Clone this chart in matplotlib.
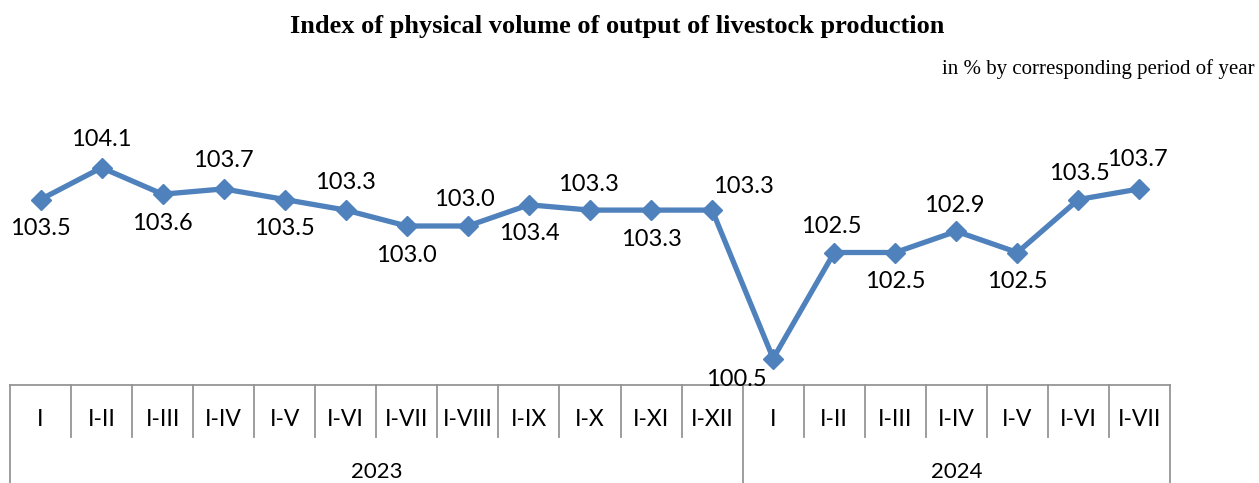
import matplotlib
matplotlib.use("Agg")
import matplotlib.pyplot as plt

categories = ["I", "I-II", "I-III", "I-IV", "I-V", "I-VI", "I-VII", "I-VIII", "I-IX",
              "I-X", "I-XI", "I-XII",
              "I", "I-II", "I-III", "I-IV", "I-V", "I-VI", "I-VII"]
years = ["2023", "2024"]
year_counts = [12, 7]
values = [103.5, 104.1, 103.6, 103.7, 103.5, 103.3, 103.0, 103.0, 103.4, 103.3, 103.3, 103.3,
          100.5, 102.5, 102.5, 102.9, 102.5, 103.5, 103.7]

# label offsets in pixels (dx, dy; dy positive = up)
label_offsets = [(0, -29), (0, 28), (0, -29), (0, 28), (0, -29), (0, 28), (0, -29), (-4, 26),
                 (0, -29), (-2, 26), (0, -29), (31, 24), (-37, -21), (-3, 26), (0, -29),
                 (-2, 26), (0, -29), (1, 26), (-2, 29)]

W, H = 1259, 483
fig = plt.figure(figsize=(W / 100, H / 100), dpi=100)
ax_left, ax_right = 10, 1170
ax_top, ax_bottom = 120, 385
ax = fig.add_axes([ax_left / W, 1 - ax_bottom / H, (ax_right - ax_left) / W, (ax_bottom - ax_top) / H])

color = "#4F81BD"
x = list(range(len(values)))
ax.plot(x, values, color=color, lw=3.8, marker="D", markersize=10.5, zorder=3, clip_on=False)
ax.set_xlim(-0.5, len(values) - 0.5)
ax.set_ylim(100, 105)
ax.axis("off")

lab_font = dict(family=["Lato", "DejaVu Sans"], fontsize=17, color="black")
for xi, v, (dx, dy) in zip(x, values, label_offsets):
    ax.annotate(f"{v:.1f}", (xi, v), xytext=(dx * 0.72, dy * 0.72), textcoords="offset points",
                ha="center", va="center", **lab_font)

# category axis
gray = "#959595"
axh = ax_bottom - ax_top
def ay(py):
    return -(py - ax_bottom) / axh

ax.plot([-0.5, len(values) - 0.5], [0, 0], color=gray, lw=1.3, transform=ax.get_xaxis_transform(), clip_on=False)
boundaries = [0]
for c in year_counts:
    boundaries.append(boundaries[-1] + c)
for k in range(len(values) + 1):
    xb = k - 0.5
    y_end = ay(H) if k in boundaries else ay(437)
    ax.plot([xb, xb], [0, y_end], color=gray, lw=1.3, transform=ax.get_xaxis_transform(), clip_on=False)

cat_font = dict(family=["Lato", "DejaVu Sans"], fontsize=16.5, color="black")
for xi, c in enumerate(categories):
    ax.text(xi, ay(420), c, ha="center", va="center", transform=ax.get_xaxis_transform(), **cat_font)
for i, yr in enumerate(years):
    mid = (boundaries[i] + boundaries[i + 1]) / 2 - 0.5
    ax.text(mid, ay(472), yr, ha="center", va="center", transform=ax.get_xaxis_transform(),
            family=["Lato", "DejaVu Sans"], fontsize=16, color="black")

fig.text(617 / W, 1 - 27 / H, "Index of physical volume of output of livestock production",
         ha="center", va="center", family="Liberation Serif", fontweight="bold", fontsize=19)
fig.text(1255 / W, 1 - 69 / H, "in % by corresponding period of year",
         ha="right", va="center", family="Liberation Serif", fontsize=15)

fig.savefig("out.png", dpi=100)
